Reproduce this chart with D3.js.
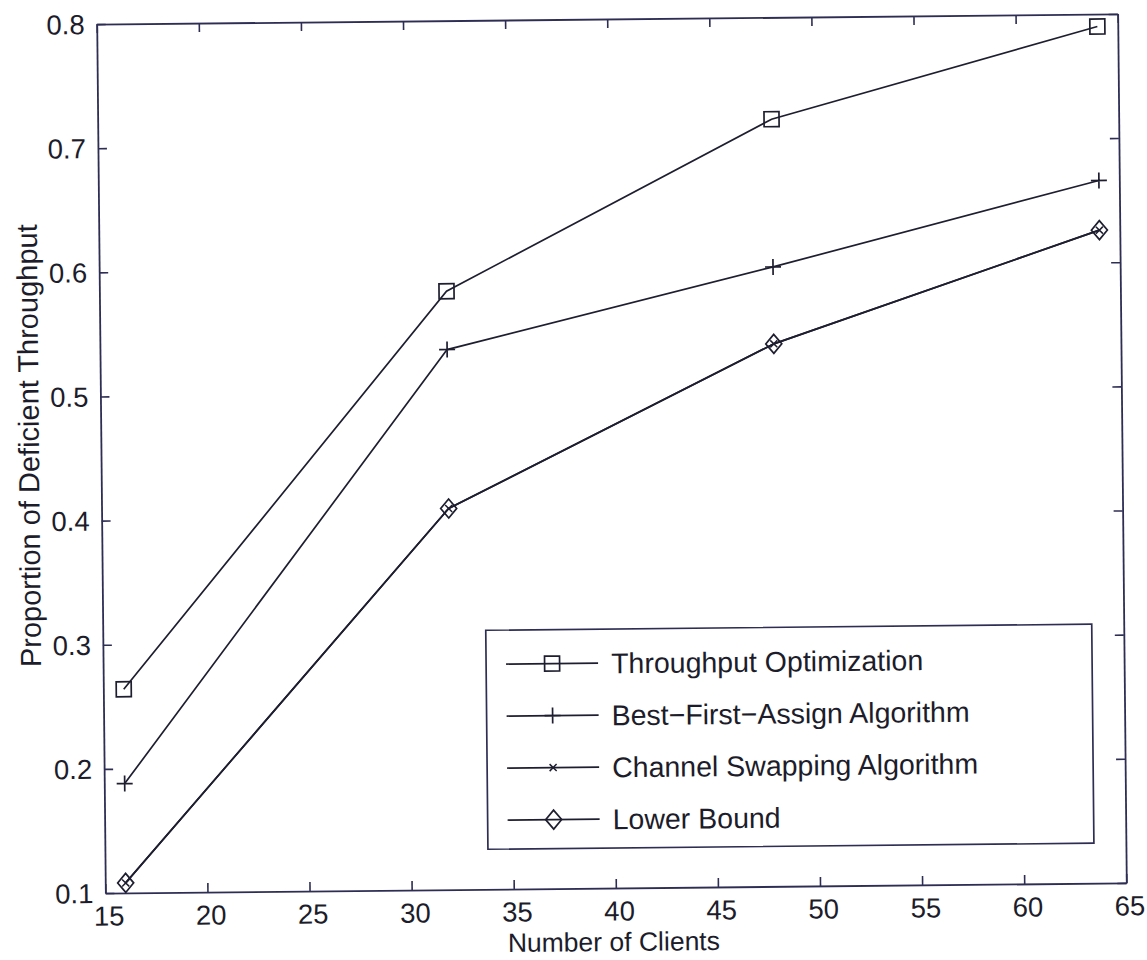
<!DOCTYPE html>
<html>
<head>
<meta charset="utf-8">
<script src="https://cdn.jsdelivr.net/npm/d3@7"></script>
<style>
  body { margin: 0; background: #fff; }
  svg { display: block; }
  text { font-family: "Liberation Sans", Arial, Helvetica, sans-serif; fill: #1c1c2a; }
</style>
</head>
<body>
<svg id="chart" width="1147" height="960"></svg>
<script>
// data
const clients = [16, 32, 48, 64];
const throughputOpt = [0.264, 0.582, 0.718, 0.790];
const bestFirst = [0.188, 0.535, 0.599, 0.666];
const channelSwap = [0.108, 0.407, 0.537, 0.626];
const lowerBound = [0.108, 0.407, 0.537, 0.626];
const seriesNames = ["Throughput Optimization", "Best\u2212First\u2212Assign Algorithm", "Channel Swapping Algorithm", "Lower Bound"];
const xTicks = [15, 20, 25, 30, 35, 40, 45, 50, 55, 60, 65];
const yTicks = [0.1, 0.2, 0.3, 0.4, 0.5, 0.6, 0.7, 0.8];

const ink = "#1e1e30";
const axisInk = "#2e2e55";

const svg = d3.select("#chart");
const plotLeft = 101, plotRight = 1122, plotTop = 19, plotBottom = 888;

// the scan is slightly tilted, so the whole figure is rotated a touch
const fig = svg.append("g").attr("transform", "rotate(-0.57, 611, 453)");

const x = d3.scaleLinear().domain([15, 65]).range([plotLeft, plotRight]);
const y = d3.scaleLinear().domain([0.1, 0.8]).range([plotBottom, plotTop]);

// axes: ticks inward on all four sides
const xAxis = fig.append("g").attr("transform", `translate(0,${plotBottom})`)
    .call(d3.axisBottom(x).tickValues(xTicks).tickSize(-9).tickSizeOuter(0).tickPadding(13).tickFormat(d3.format("d")));
fig.append("g").attr("transform", `translate(0,${plotTop})`)
    .call(d3.axisTop(x).tickValues(xTicks).tickSize(-9).tickSizeOuter(0).tickFormat(""));
const yAxis = fig.append("g").attr("transform", `translate(${plotLeft},0)`)
    .call(d3.axisLeft(y).tickValues(yTicks).tickSize(-9).tickSizeOuter(0).tickPadding(12).tickFormat(d3.format(".1f")));
fig.append("g").attr("transform", `translate(${plotRight},0)`)
    .call(d3.axisRight(y).tickValues(yTicks).tickSize(-9).tickSizeOuter(0).tickFormat(""));

fig.selectAll(".domain").attr("stroke", axisInk).attr("stroke-width", 1.8);
fig.selectAll(".tick line").attr("stroke", axisInk).attr("stroke-width", 1.6);
fig.selectAll(".tick text").attr("font-size", 27.5).attr("fill", "#1c1c2a")
    .attr("font-family", '"Liberation Sans", Arial, sans-serif');
xAxis.selectAll(".tick text").attr("dx", 3);
yAxis.selectAll(".tick text").attr("dy", "0.34em");

fig.append("text")
    .attr("x", 609).attr("y", 951)
    .attr("text-anchor", "middle")
    .attr("font-size", 26.5)
    .text("Number of Clients");

fig.append("text")
    .attr("transform", "translate(39,440) rotate(-90)")
    .attr("text-anchor", "middle")
    .attr("font-size", 29)
    .text("Proportion of Deficient Throughput");

// marker drawing
const drawMarker = (g, kind) => {
    if (kind === "square") {
        g.append("rect").attr("x", -7.5).attr("y", -7.5).attr("width", 15).attr("height", 15)
            .attr("fill", "none").attr("stroke", ink).attr("stroke-width", 1.7);
    } else if (kind === "plus") {
        g.append("path").attr("d", "M-8,0H8M0,-8V8").attr("stroke", ink).attr("stroke-width", 1.7);
    } else if (kind === "cross") {
        g.append("path").attr("d", "M-3.5,-3.5L3.5,3.5M-3.5,3.5L3.5,-3.5").attr("stroke", ink).attr("stroke-width", 1.5);
    } else if (kind === "diamond") {
        g.append("path").attr("d", "M0,-9.5L8,0L0,9.5L-8,0Z")
            .attr("fill", "none").attr("stroke", ink).attr("stroke-width", 1.7);
    }
};

const series = [
    { name: seriesNames[0], values: throughputOpt, marker: "square" },
    { name: seriesNames[1], values: bestFirst, marker: "plus" },
    { name: seriesNames[2], values: channelSwap, marker: "cross" },
    { name: seriesNames[3], values: lowerBound, marker: "diamond" }
];

const line = d3.line().x(d => x(d[0])).y(d => y(d[1]));

series.forEach(s => {
    const pts = clients.map((c, i) => [c, s.values[i]]);
    fig.append("path")
        .datum(pts)
        .attr("fill", "none")
        .attr("stroke", ink)
        .attr("stroke-width", 1.7)
        .attr("d", line);
    pts.forEach(p => {
        const g = fig.append("g").attr("transform", `translate(${x(p[0])},${y(p[1])})`);
        drawMarker(g, s.marker);
    });
});

// legend
const legend = fig.append("g");
legend.append("rect")
    .attr("x", 484).attr("y", 629).attr("width", 606).attr("height", 219)
    .attr("fill", "#fff").attr("stroke", axisInk).attr("stroke-width", 1.7);

const rowY = [663, 715, 767, 819];
series.forEach((s, i) => {
    const row = legend.append("g").attr("transform", `translate(0,${rowY[i]})`);
    row.append("line").attr("x1", 504).attr("x2", 596).attr("y1", 0).attr("y2", 0)
        .attr("stroke", ink).attr("stroke-width", 1.7);
    drawMarker(row.append("g").attr("transform", "translate(550,0)"), s.marker);
    row.append("text").attr("x", 609).attr("y", 0).attr("dy", "0.36em")
        .attr("font-size", 28.5)
        .text(s.name);
});
</script>
</body>
</html>
